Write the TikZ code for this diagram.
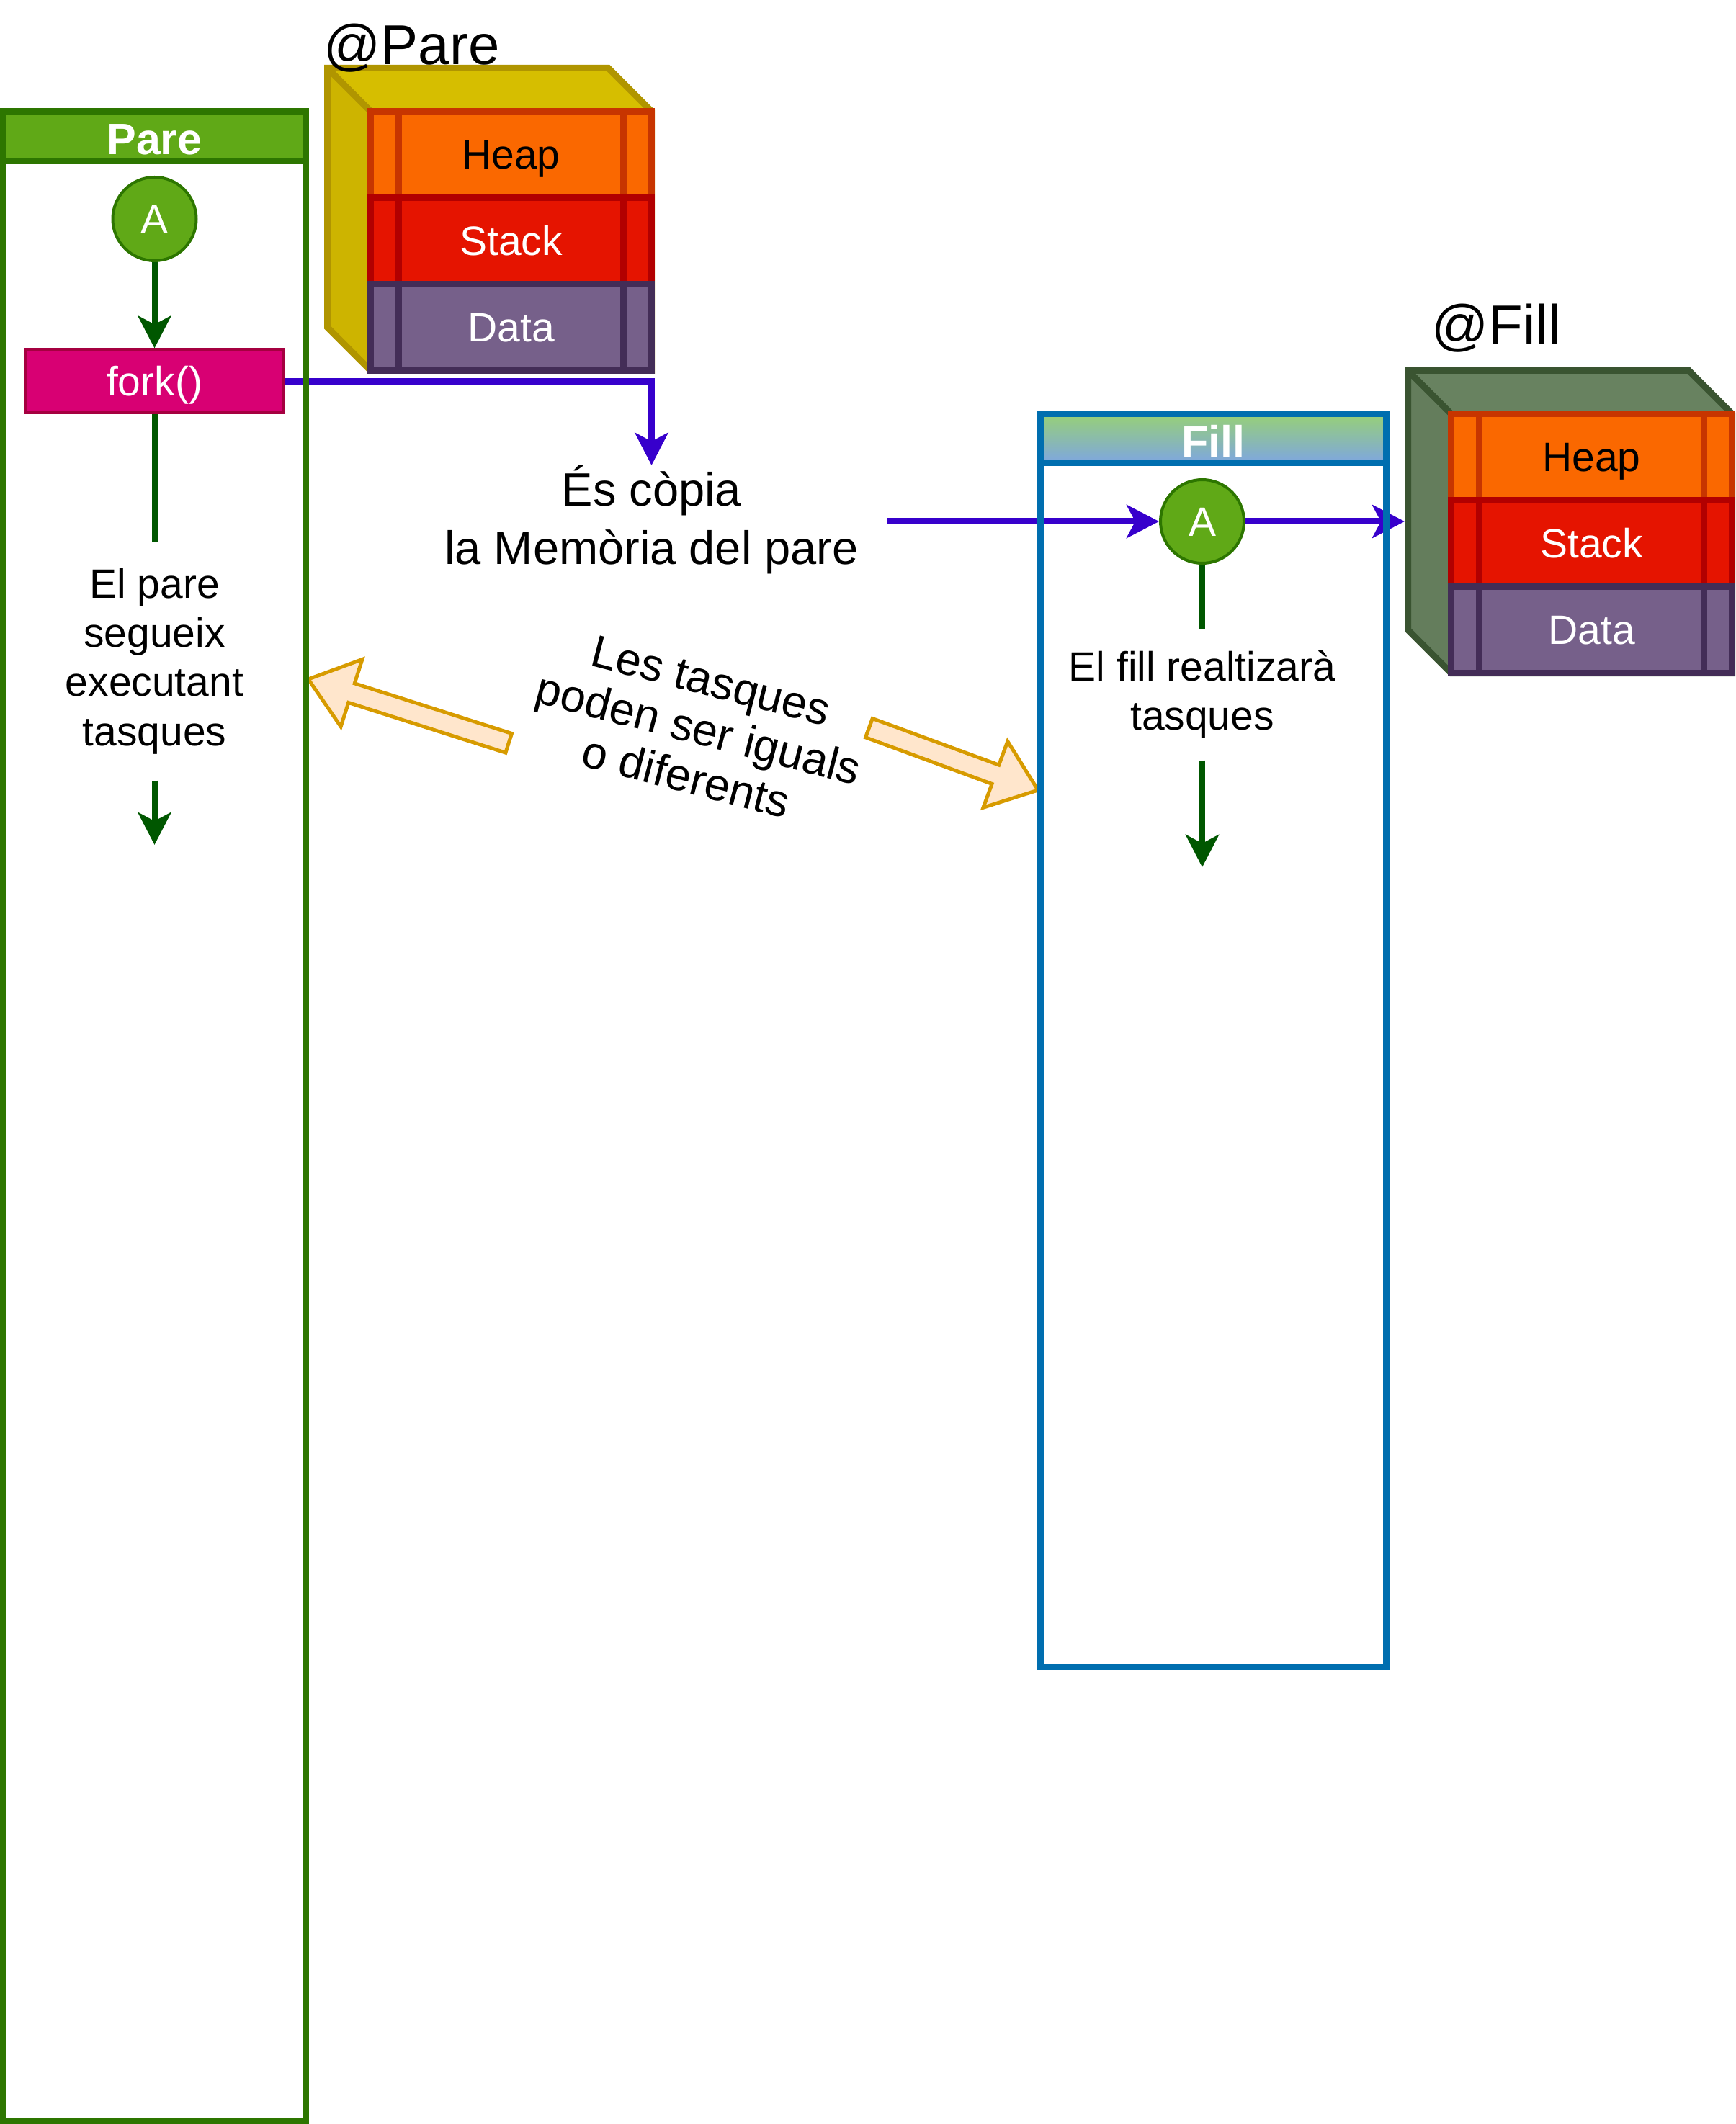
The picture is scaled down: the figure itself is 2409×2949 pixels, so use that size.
\documentclass[tikz,border=0pt]{standalone}
\usepackage{fontspec}
\setmainfont{Liberation Sans}
\usetikzlibrary{arrows.meta,calc}
\definecolor{gfill}{HTML}{60A917}
\definecolor{gstroke}{HTML}{2D7600}
\definecolor{dgreen}{HTML}{005700}
\definecolor{purp}{HTML}{3700CC}
\definecolor{forkfill}{HTML}{D80073}
\definecolor{forkstroke}{HTML}{A50040}
\definecolor{heapfill}{HTML}{FA6800}
\definecolor{heapstroke}{HTML}{C73500}
\definecolor{stackfill}{HTML}{E51400}
\definecolor{stackstroke}{HTML}{B20000}
\definecolor{datafill}{HTML}{76608A}
\definecolor{datastroke}{HTML}{432D57}
\definecolor{ycubetop}{HTML}{D6BE00}
\definecolor{ycubeside}{HTML}{CDB400}
\definecolor{ycubestroke}{HTML}{B09500}
\definecolor{gcubetop}{HTML}{688260}
\definecolor{gcubeside}{HTML}{647D5C}
\definecolor{gcubestroke}{HTML}{3A5431}
\definecolor{ofill}{HTML}{FFE6CC}
\definecolor{ostroke}{HTML}{D79B00}
\definecolor{bstroke}{HTML}{006EAF}
\definecolor{hgreen}{HTML}{97D077}
\definecolor{hblue}{HTML}{7EA6E0}
\begin{document}
\begin{tikzpicture}[x=0.3pt,y=-0.3pt,
  bodyfont/.style={font=\fontsize{17.1pt}{20.5pt}\selectfont},
  txt/.style={bodyfont, align=center, inner sep=0pt},
  proc/.style={draw, line width=2.7pt, minimum width=117pt, minimum height=36pt, inner sep=0pt, outer sep=0pt, bodyfont, text height=12.2pt, text depth=0pt},
  startc/.style={circle, draw=gstroke, fill=gfill, line width=1.2pt, minimum size=34.8pt, inner sep=0pt, text=white, bodyfont, text height=12.2pt, text depth=0pt},
  gflow/.style={dgreen, line width=2.4pt},
  tipS/.style={-{Stealth[length=13.5pt,width=13.8pt,inset=3.6pt]}},
  pflow/.style={purp, line width=2.7pt, tipS},
  blockarrow/.style={draw=ostroke, fill=ofill, line width=1.5pt, line join=miter},
  lane/.style={draw, line width=2.7pt, inner sep=0pt, outer sep=0pt},
  lanehead/.style={draw, line width=2.7pt, inner sep=0pt, outer sep=0pt, text=white, font=\bfseries\fontsize{18.3pt}{22pt}\selectfont, text height=15.5pt, text depth=0pt},
  memlabel/.style={font=\fontsize{23.4pt}{28pt}\selectfont, inner sep=0pt, anchor=base west}
]
\useasboundingbox (0,0) rectangle (2409,2949);

% ---- @Pare cube ----
\fill[ycubetop] (454.5,94.5) -- (844.5,94.5) -- (904.5,154.5) -- (514.5,154.5) -- cycle;
\fill[ycubeside] (454.5,94.5) -- (514.5,154.5) -- (514.5,514.5) -- (454.5,454.5) -- cycle;
\draw[ycubestroke, line width=2.7pt] (454.5,94.5) -- (844.5,94.5) -- (904.5,154.5) -- (904.5,514.5) -- (514.5,514.5) -- (454.5,454.5) -- cycle (454.5,94.5) -- (514.5,154.5);
\node[proc, fill=heapfill, draw=heapstroke] (heapP) at (709.5,214.5) {Heap};
\node[proc, fill=stackfill, draw=stackstroke, text=white] (stackP) at (709.5,334.5) {Stack};
\node[proc, fill=datafill, draw=datastroke, text=white] (dataP) at (709.5,454.5) {Data};

% ---- @Fill cube ----
\fill[gcubetop] (1954.5,514.5) -- (2344.5,514.5) -- (2404.5,574.5) -- (2014.5,574.5) -- cycle;
\fill[gcubeside] (1954.5,514.5) -- (2014.5,574.5) -- (2014.5,934.5) -- (1954.5,874.5) -- cycle;
\draw[gcubestroke, line width=2.7pt] (1954.5,514.5) -- (2344.5,514.5) -- (2404.5,574.5) -- (2404.5,934.5) -- (2014.5,934.5) -- (1954.5,874.5) -- cycle (1954.5,514.5) -- (2014.5,574.5);
\node[proc, fill=heapfill, draw=heapstroke] (heapF) at (2209.5,634.5) {Heap};
\node[proc, fill=stackfill, draw=stackstroke, text=white] (stackF) at (2209.5,754.5) {Stack};
\node[proc, fill=datafill, draw=datastroke, text=white] (dataF) at (2209.5,874.5) {Data};

\foreach \n/\c in {heapP/heapstroke,stackP/stackstroke,dataP/datastroke,heapF/heapstroke,stackF/stackstroke,dataF/datastroke}{
  \draw[\c, line width=2.7pt] ($(\n.north west)+(39,4.5)$) -- ($(\n.south west)+(39,-4.5)$);
  \draw[\c, line width=2.7pt] ($(\n.north east)+(-39,4.5)$) -- ($(\n.south east)+(-39,-4.5)$);
}

\node[memlabel] (atP) at (449,90) {@Pare};
\node[memlabel] (atF) at (1987,479) {@Fill};

% ---- Pare lane contents ----
\node[startc] (circP) at (214.5,304) {A};
\node[draw=forkstroke, fill=forkfill, line width=1.2pt, minimum width=107.7pt, minimum height=26.25pt, inner sep=0pt, text=white, bodyfont, text height=12.2pt, text depth=0pt] (fork) at (214.5,529.25) {fork()};
\node[txt, minimum height=99pt] (txtP) at (214.5,918) {El pare\\segueix\\executant\\tasques};
\coordinate (endP) at (214.5,1173);

% ---- Fill lane contents ----
\node[startc] (circF) at (1669,724) {A};
\node[txt, minimum height=54.3pt] (txtF) at (1669,964.5) {El fill realtizarà\\tasques};
\coordinate (endF) at (1669,1204);

% ---- free texts ----
\node[font=\fontsize{19.5pt}{24.3pt}\selectfont, align=center, inner xsep=12pt, inner ysep=0pt] (copy) at (904.5,722) {És còpia\\la Memòria del pare};
\node[font=\fontsize{18.9pt}{20.7pt}\selectfont, align=center, inner sep=0pt, rotate=-14.5] (tasq) at (970,1012) {Les tasques\\poden ser iguals\\o diferents};

% ---- connectors ----
\draw[gflow, tipS] (circP) -- (fork);
\draw[gflow] (fork) -- (txtP);
\draw[gflow, tipS] (txtP) -- (endP);
\draw[gflow] (circF) -- (txtF);
\draw[gflow, tipS] (txtF) -- (endF);
\draw[pflow] (fork.east) -| (copy.north);
\draw[pflow] (circF.west -| copy.east) -- (circF.west);
\coordinate (cubeFedge) at (1950,724);
\draw[pflow] (circF) -- (cubeFedge);

% ---- block arrows ----
\begin{scope}[shift={(428,943)}, rotate=-17.7]
  \draw[blockarrow] (0,0) -- (63,-49) -- (63,-14) -- (292,-14) -- (292,14) -- (63,14) -- (63,49) -- cycle;
\end{scope}
\begin{scope}[shift={(1441,1097)}, rotate=159.8]
  \draw[blockarrow] (0,0) -- (63,-49) -- (63,-14) -- (250,-14) -- (250,14) -- (63,14) -- (63,49) -- cycle;
\end{scope}

% ---- lanes ----
\node[lane, draw=gstroke, minimum width=126pt, minimum height=837pt] (pareLane) at (214.5,1549.5) {};
\node[lanehead, draw=gstroke, fill=gfill, minimum width=126pt, minimum height=20.7pt] (pareHead) at (214.5,189) {Pare};
\node[lane, draw=bstroke, minimum width=144pt, minimum height=522pt] (fillLane) at (1684.5,1444.5) {};
\node[lanehead, draw=bstroke, top color=hgreen, bottom color=hblue, minimum width=144pt, minimum height=20.55pt] (fillHead) at (1684.5,608.75) {Fill};
\end{tikzpicture}
\end{document}
